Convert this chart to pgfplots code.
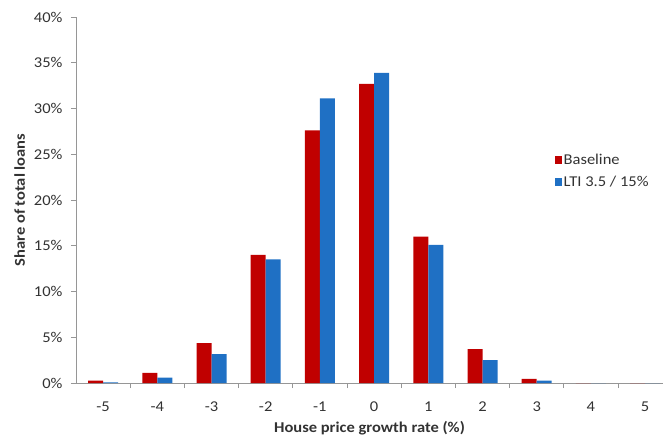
\documentclass[border=0pt]{standalone}
\usepackage{pgfplots}
\pgfplotsset{compat=1.18}
\usepackage{fontspec}
\setmainfont{Carlito}[FakeStretch=1.1]
\definecolor{cred}{RGB}{192,0,0}
\definecolor{cblue}{RGB}{31,112,196}
\definecolor{axgray}{RGB}{150,150,150}
\definecolor{txt}{RGB}{50,50,50}
\begin{document}
\begin{tikzpicture}
\path[use as bounding box] (-76pt,-53pt) rectangle (587pt,383pt);
\begin{axis}[
  at={(0pt,0pt)}, anchor=south west,
  scale only axis, width=587pt, height=366pt,
  ybar=0pt, bar width=15pt,
  xmin=-5.5, xmax=5.33, ymin=0, ymax=40,
  axis x line*=bottom, axis y line*=left,
  axis line style={axgray, line width=0.7pt},
  every inner x axis line/.append style={-},
  every inner y axis line/.append style={-},
  xtick={-5,-4,-3,-2,-1,0,1,2,3,4,5},
  xticklabels={-5,-4,-3,-2,-1,0,1,2,3,4,5},
  major x tick style={draw=none},
  minor xtick={-4.5,-3.5,-2.5,-1.5,-0.5,0.5,1.5,2.5,3.5,4.5},
  minor x tick style={axgray, line width=0.7pt},
  ytick={0,5,10,15,20,25,30,35,40},
  yticklabel={\pgfmathprintnumber{\tick}\%},
  y tick style={axgray, line width=0.7pt},
  tick align=outside,
  major tick length=5pt, minor tick length=5pt,
  /pgf/number format/assume math mode=true,
  tick label style={font=\fontsize{15}{17}\selectfont, text=txt},
  xticklabel style={yshift=-10pt},
  yticklabel style={xshift=-5pt},
  xlabel={\textbf{House price growth rate (\%)}},
  ylabel={\textbf{Share of total loans}},
  label style={font=\fontsize{15}{17}\selectfont, text=txt},
  xlabel style={yshift=-3pt},
  ylabel style={yshift=2pt},
  legend style={draw=none, fill=none, at={(0.81,0.579)}, anchor=west,
    font=\fontsize{15}{17}\selectfont, row sep=6pt, text=txt},
  legend cell align=left,
  legend image code/.code={\fill[#1] (0pt,-4pt) rectangle (7pt,4pt);},
]
\addplot[fill=cred, draw=none] coordinates {
(-5,0.25) (-4,1.1) (-3,4.35) (-2,14.0) (-1,27.6) (0,32.7) (1,16.0) (2,3.7) (3,0.45) (4,0) (5,0)};
\addplot[fill=cblue, draw=none] coordinates {
(-5,0.07) (-4,0.6) (-3,3.15) (-2,13.5) (-1,31.1) (0,33.9) (1,15.1) (2,2.5) (3,0.25) (4,0) (5,0)};
\legend{Baseline, LTI 3.5 / 15\%}
\end{axis}
\end{tikzpicture}
\end{document}
